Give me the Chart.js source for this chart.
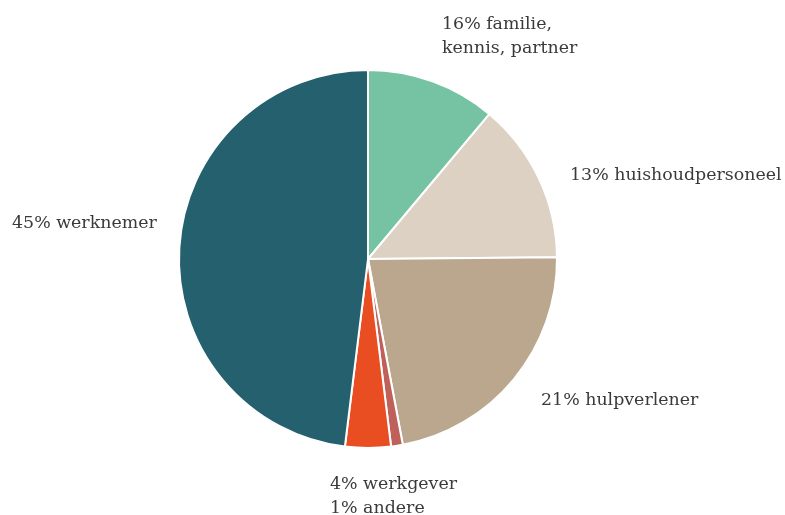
<!DOCTYPE html>
<html>
<head>
<meta charset="utf-8">
<script src="https://cdn.jsdelivr.net/npm/chart.js@4/dist/chart.umd.min.js"></script>
<style>
  html, body { margin: 0; padding: 0; background: #fff; }
  #wrap { width: 785px; height: 515px; position: relative; }
</style>
</head>
<body>
<div id="wrap"><canvas id="chart" width="785" height="515"></canvas></div>
<script>
// slices, clockwise from 12 o'clock
const categories = ['familie, kennis, partner', 'huishoudpersoneel', 'hulpverlener', 'andere', 'werkgever', 'werknemer'];
// share as drawn in the picture (slice sizes)
const sliceValues = [11.1, 13.75, 22.2, 1.0, 3.9, 48.05];
// percentages as printed in the labels
const labelPercents = [16, 13, 21, 1, 4, 45];
const sliceColors = ['#76c3a3', '#ddd1c4', '#baa78e', '#c0605a', '#e84e22', '#24606e'];

// label text lines and where they sit
const labelBlocks = [
    { lines: [labelPercents[0] + '% familie,', 'kennis, partner'], x: 442, y: 24 },
    { lines: [labelPercents[1] + '% huishoudpersoneel'], x: 570, y: 175 },
    { lines: [labelPercents[2] + '% hulpverlener'], x: 541, y: 400 },
    { lines: [labelPercents[4] + '% werkgever', labelPercents[3] + '% andere'], x: 330, y: 484 },
    { lines: [labelPercents[5] + '% werknemer'], x: 12, y: 223 }
];

const outsideLabels = {
    id: 'outsideLabels',
    afterDraw(c) {
        const ctx = c.ctx;
        ctx.save();
        ctx.font = '17.4px "DejaVu Serif"';
        ctx.fillStyle = '#3a3a3a';
        ctx.textAlign = 'left';
        ctx.textBaseline = 'middle';
        labelBlocks.forEach(b => {
            b.lines.forEach((t, i) => ctx.fillText(t, b.x, b.y + i * 24));
        });
        ctx.restore();
    }
};

const ctx = document.getElementById('chart').getContext('2d');
const chart = new Chart(ctx, {
    type: 'pie',
    data: {
        labels: categories,
        datasets: [{
            data: sliceValues,
            backgroundColor: sliceColors,
            borderColor: '#ffffff',
            borderWidth: 2
        }]
    },
    options: {
        responsive: false,
        animation: false,
        layout: { padding: { top: 69, bottom: 66, left: 0, right: 49 } },
        plugins: {
            legend: { display: false },
            tooltip: { enabled: false }
        }
    },
    plugins: [outsideLabels]
});
</script>
</body>
</html>
